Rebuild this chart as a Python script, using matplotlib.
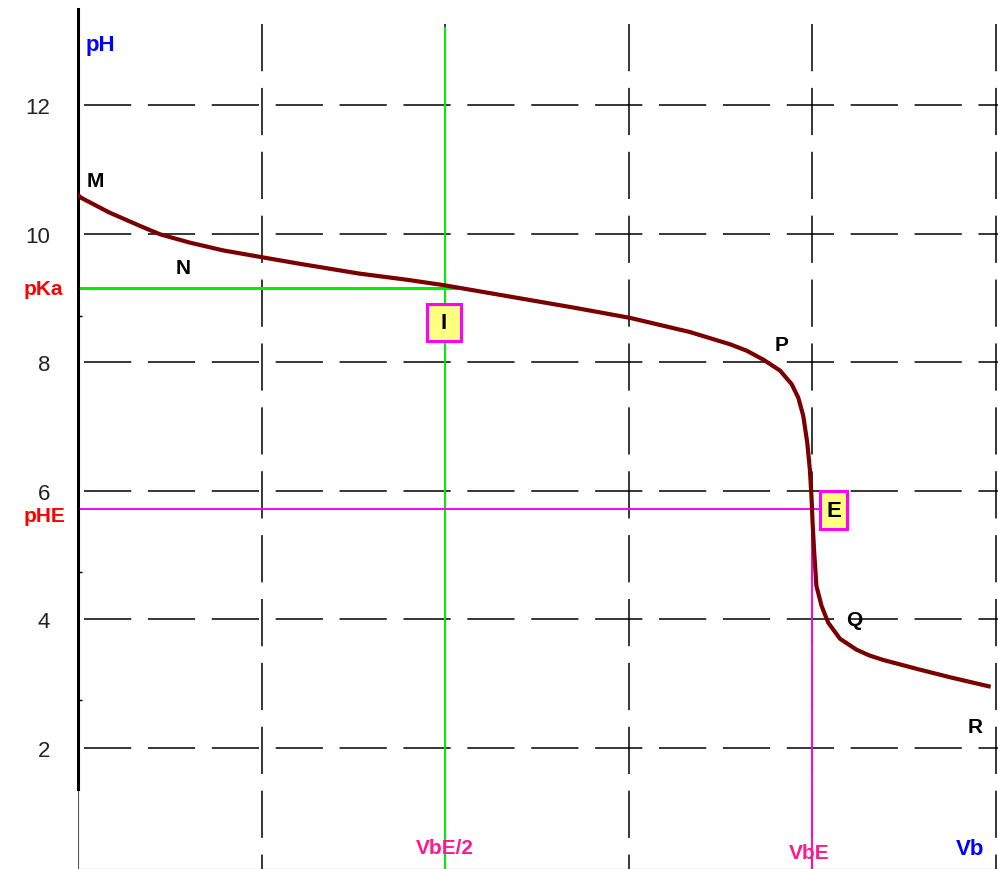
import matplotlib.pyplot as plt
from matplotlib.patches import Rectangle

# ---- data ----
vb = [0, 0.016, 0.17, 0.338, 0.447, 0.61, 0.79, 1.009, 1.19, 1.53, 1.80, 1.99,
      2.335, 2.70, 3.007, 3.333, 3.551, 3.642, 3.733, 3.824, 3.887, 3.923,
      3.95, 3.972, 3.986, 3.995, 4.001, 4.010, 4.022, 4.05, 4.086, 4.15, 4.24,
      4.31, 4.385, 4.57, 4.75, 4.96]
ph = [10.6, 10.56, 10.33, 10.12, 9.99, 9.86, 9.74, 9.63, 9.54, 9.38, 9.28, 9.20,
      9.03, 8.85, 8.69, 8.47, 8.28, 8.18, 8.04, 7.87, 7.66, 7.45,
      7.17, 6.75, 6.34, 5.92, 5.51, 5.04, 4.52, 4.21, 3.95, 3.70, 3.53,
      3.44, 3.37, 3.23, 3.10, 2.96]

ph_ticks = [2, 4, 6, 8, 10, 12]
ph_minor = [2.75, 4.74, 8.72]
vb_grid = [1, 2, 3, 4, 5]

pKa = 9.15
pHE = 5.72
VbE = 4.0
half_VbE = VbE / 2

point_labels = ['M', 'N', 'P', 'Q', 'R']
point_x = [0.093, 0.57, 3.83, 4.23, 4.885]
point_y = [10.82, 9.48, 8.27, 4.0, 2.33]

plt.rcParams['font.family'] = ['Liberation Sans', 'DejaVu Sans']
plt.rcParams['lines.scale_dashes'] = False

fig = plt.figure(figsize=(9.98, 8.70), dpi=100)
ax = fig.add_axes([78 / 998, 0, 920 / 998, 1])
ax.set_xlim(0, 5.011)
ax.set_ylim(0.118, 13.65)

# grille en tirets
dash = (0, (34, 12))
for y in ph_ticks:
    ax.plot([0.033, 5.011], [y, y], color='black', lw=1.1, ls=dash, zorder=1)
for x in vb_grid:
    ax.plot([x, x], [13.26, 0.118], color='black', lw=1.1, ls=dash, zorder=1)

# repères demi-équivalence (vert) et équivalence (magenta)
ax.plot([0, half_VbE + 0.065], [pKa, pKa], color='#00ee00', lw=2.2, zorder=2)
ax.plot([half_VbE, half_VbE], [13.2, 0.118], color='#00ee00', lw=1.5, zorder=2)
ax.plot([0, VbE + 0.04], [pHE, pHE], color='#ff00ff', lw=1.4, zorder=2)
ax.plot([VbE, VbE], [6.0, 0.118], color='#ff00ff', lw=1.4, zorder=2)

# courbe de dosage
ax.plot(vb, ph, color='#7a0000', lw=3.0, solid_joinstyle='round', zorder=3)

# axes
for s in ['top', 'right']:
    ax.spines[s].set_visible(False)
ax.spines['left'].set_linewidth(2.2)
ax.spines['left'].set_bounds(1.36, 13.49)
ax.spines['bottom'].set_linewidth(0.8)
ax.spines['bottom'].set_color('#555555')
ax.axvline(0, 0, 0.1, color='#555555', lw=0.8)

ax.set_xticks([])
ax.set_yticks(ph_ticks)
ax.set_yticklabels([str(t) for t in ph_ticks], fontsize=16, color='#222222')
ax.tick_params(axis='y', which='major', length=0, pad=20)
ax.set_yticks(ph_minor, minor=True)
ax.tick_params(axis='y', which='minor', direction='in', length=3, width=1,
               color='black')

# textes
ax.text(0.12, 12.95, 'pH', color='#0000ff', fontsize=16, fontweight='bold',
        ha='center', va='center')
ax.text(4.86, 0.43, 'Vb', color='#0000ff', fontsize=16, fontweight='bold',
        ha='center', va='center')
ax.text(-0.08, pKa, 'pKa', color='#ff0000', fontsize=15, fontweight='bold',
        ha='right', va='center', clip_on=False)
ax.text(-0.07, pHE - 0.1, 'pHE', color='#ff0000', fontsize=15, fontweight='bold',
        ha='right', va='center', clip_on=False)
ax.text(half_VbE, 0.46, 'VbE/2', color='#ff1a8c', fontsize=15, fontweight='bold',
        ha='center', va='center')
ax.text(VbE - 0.02, 0.38, 'VbE', color='#ff1a8c', fontsize=15, fontweight='bold',
        ha='center', va='center')

for lab, x, y in zip(point_labels, point_x, point_y):
    ax.text(x, y, lab, color='black', fontsize=15, fontweight='bold',
            ha='center', va='center', zorder=5)

# étiquettes encadrées I et E
boxes = [('I', 1.993, 8.62, 0.185, 0.575), ('E', 4.115, 5.70, 0.147, 0.59)]
for lab, cx, cy, w, h in boxes:
    ax.add_patch(Rectangle((cx - w / 2, cy - h / 2), w, h, fc='#ffff80',
                           ec='#ff00ff', lw=2.2, zorder=6))
    ax.text(cx, cy, lab, fontsize=16, fontweight='bold', ha='center',
            va='center', zorder=7)

fig.savefig('out.png', dpi=100)
